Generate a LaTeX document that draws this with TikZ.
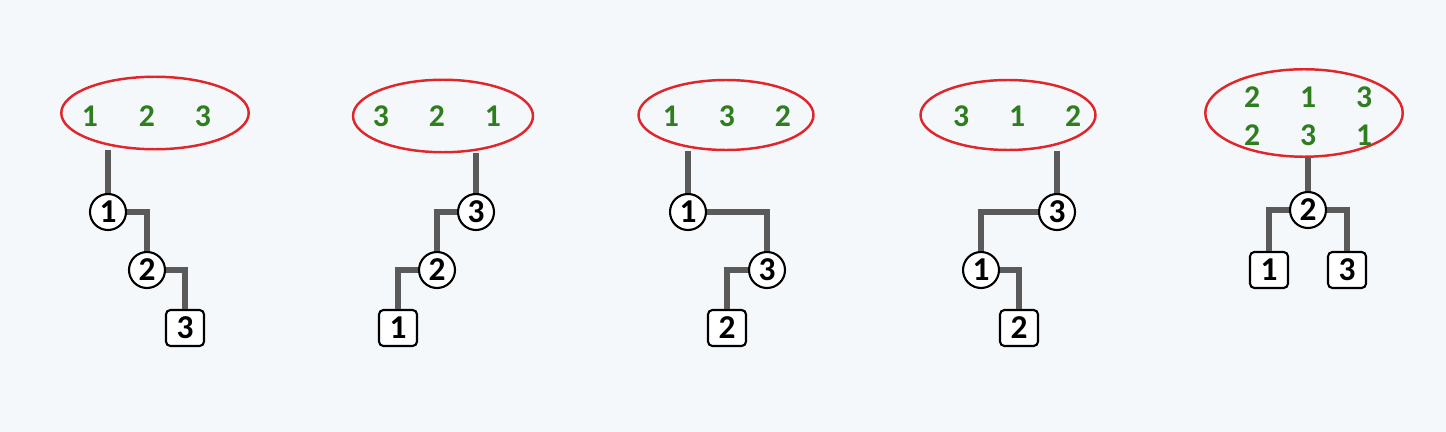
\documentclass[tikz,border=0pt]{standalone}
\usepackage{fontspec}
\setmainfont{Carlito}
\usetikzlibrary{positioning,shapes.geometric}
\definecolor{wiregray}{HTML}{5A5A5A}
\definecolor{seqgreen}{HTML}{2F7D1E}
\definecolor{bagred}{HTML}{E0262B}
\definecolor{paper}{HTML}{F5F8FB}
\tikzset{
  key/.style  = {circle, draw, line width=1.2pt, fill=white, inner sep=0pt,
                 minimum size=7.2mm, font=\fontsize{19}{19}\selectfont\bfseries},
  leaf/.style = {draw, line width=1.2pt, fill=white, rounded corners=2.5pt, inner sep=0pt,
                 minimum width=7.6mm, minimum height=7.2mm, font=\fontsize{19}{19}\selectfont\bfseries},
  wire/.style = {line width=3.2pt, wiregray},
  bag/.style  = {ellipse, draw=bagred, line width=1.4pt, inner sep=0pt},
  seq/.style  = {seqgreen, inner sep=0pt, font=\fontsize{18}{18}\selectfont\bfseries},
}
\begin{document}
\begin{tikzpicture}[x=0.02cm,y=-0.02cm]
  \fill[paper] (0,0) rectangle (1446,432);
  \useasboundingbox (0,0) rectangle (1446,432);

  % order 1 2 3
  \node[bag, minimum width=3.75cm, minimum height=1.45cm] (e1) at (155,113) {};
  \node[seq] (s11) at (90,116) {1};
  \node[seq] (s12) at (147,116) {2};
  \node[seq] (s13) at (203,116) {3};
  \node[key] (a1) at (108,212) {1};
  \node[key] (a2) at (147,270) {2};
  \node[leaf] (a3) at (185,328) {3};
  \draw[wire] (a1 |- e1.south) -- (a1);
  \draw[wire] (a1) -| (a2);
  \draw[wire] (a2) -| (a3);

  % order 3 2 1
  \node[bag, minimum width=3.6cm, minimum height=1.45cm] (e2) at (443,116) {};
  \node[seq] (s21) at (381,116) {3};
  \node[seq] (s22) at (437,116) {2};
  \node[seq] (s23) at (493,116) {1};
  \node[key] (b3) at (476,212) {3};
  \node[key] (b2) at (437,270) {2};
  \node[leaf] (b1) at (398,328) {1};
  \draw[wire] (b3 |- e2.south) -- (b3);
  \draw[wire] (b3) -| (b2);
  \draw[wire] (b2) -| (b1);

  % order 1 3 2
  \node[bag, minimum width=3.5cm, minimum height=1.4cm] (e3) at (726,115) {};
  \node[seq] (s31) at (671,116) {1};
  \node[seq] (s32) at (727,116) {3};
  \node[seq] (s33) at (783,116) {2};
  \node[key] (c1) at (688,212) {1};
  \node[key] (c3) at (767,270) {3};
  \node[leaf] (c2) at (727,328) {2};
  \draw[wire] (c1 |- e3.south) -- (c1);
  \draw[wire] (c1) -| (c3);
  \draw[wire] (c3) -| (c2);

  % order 3 1 2
  \node[bag, minimum width=3.5cm, minimum height=1.4cm] (e4) at (1008,115) {};
  \node[seq] (s41) at (961,116) {3};
  \node[seq] (s42) at (1017,116) {1};
  \node[seq] (s43) at (1073,116) {2};
  \node[key] (d3) at (1057,212) {3};
  \node[key] (d1) at (981,270) {1};
  \node[leaf] (d2) at (1019,328) {2};
  \draw[wire] (d3 |- e4.south) -- (d3);
  \draw[wire] (d3) -| (d1);
  \draw[wire] (d1) -| (d2);

  % orders 2 1 3 and 2 3 1
  \node[bag, minimum width=3.95cm, minimum height=1.75cm] (e5) at (1304,113) {};
  \node[seq] (s51) at (1252,97) {2};
  \node[seq] (s52) at (1308,97) {1};
  \node[seq] (s53) at (1364,97) {3};
  \node[seq] (s54) at (1252,135) {2};
  \node[seq] (s55) at (1308,135) {3};
  \node[seq] (s56) at (1364,135) {1};
  \node[key] (f2) at (1308,210) {2};
  \node[leaf] (f1) at (1269,270) {1};
  \node[leaf] (f3) at (1347,270) {3};
  \draw[wire] (f2 |- e5.south) -- (f2);
  \draw[wire] (f2) -| (f1);
  \draw[wire] (f2) -| (f3);
\end{tikzpicture}
\end{document}
